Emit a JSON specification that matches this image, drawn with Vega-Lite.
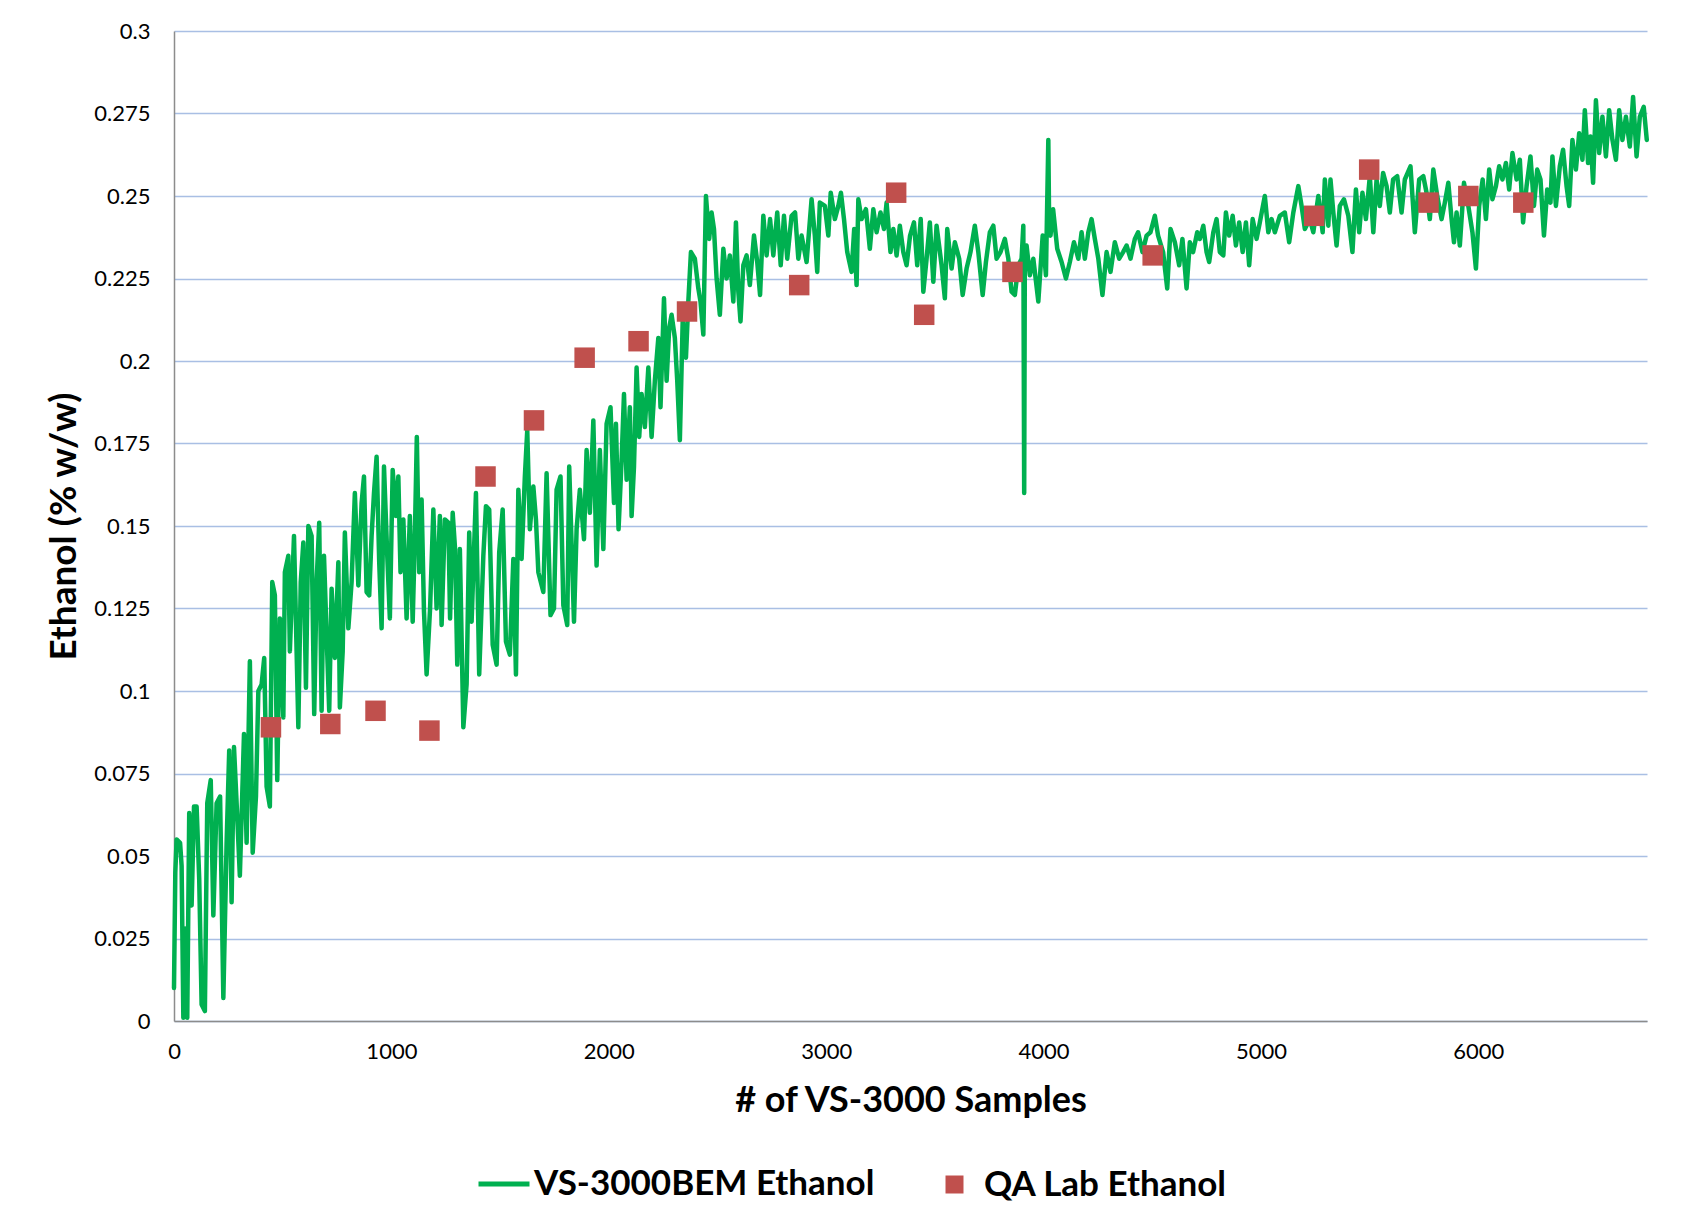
{
 "$schema": "https://vega.github.io/schema/vega-lite/v6.json",
 "width": 1473,
 "height": 990,
 "autosize": {"type": "none"},
 "padding": {"left": 174, "top": 31, "right": 43, "bottom": 206},
 "background": "white",
 "config": {"view": {"stroke": null}, "font": "Lato"},
 "datasets": {
  "line": [
   {"x":0,"y":0.010},{"x":6,"y":0.045},{"x":12,"y":0.055},{"x":28,"y":0.054},{"x":35,"y":0.047},{"x":43,"y":0.001},{"x":51,"y":0.028},{"x":61,"y":0.001},{"x":70,"y":0.063},{"x":81,"y":0.035},{"x":92,"y":0.065},{"x":104,"y":0.065},{"x":116,"y":0.043},{"x":127,"y":0.005},{"x":142,"y":0.003},{"x":153,"y":0.066},{"x":169,"y":0.073},{"x":181,"y":0.032},{"x":196,"y":0.066},{"x":212,"y":0.068},{"x":227,"y":0.007},{"x":242,"y":0.054},{"x":254,"y":0.082},{"x":265,"y":0.036},{"x":276,"y":0.083},{"x":288,"y":0.066},{"x":303,"y":0.044},{"x":322,"y":0.087},{"x":334,"y":0.054},{"x":349,"y":0.109},{"x":362,"y":0.051},{"x":377,"y":0.068},{"x":388,"y":0.100},{"x":403,"y":0.102},{"x":415,"y":0.110},{"x":426,"y":0.071},{"x":441,"y":0.065},{"x":452,"y":0.133},{"x":464,"y":0.129},{"x":475,"y":0.073},{"x":487,"y":0.122},{"x":503,"y":0.092},{"x":510,"y":0.136},{"x":526,"y":0.141},{"x":533,"y":0.112},{"x":552,"y":0.147},{"x":564,"y":0.112},{"x":572,"y":0.089},{"x":583,"y":0.133},{"x":595,"y":0.145},{"x":607,"y":0.101},{"x":618,"y":0.150},{"x":633,"y":0.147},{"x":645,"y":0.093},{"x":656,"y":0.133},{"x":668,"y":0.151},{"x":679,"y":0.094},{"x":690,"y":0.141},{"x":702,"y":0.117},{"x":714,"y":0.094},{"x":725,"y":0.131},{"x":740,"y":0.110},{"x":756,"y":0.139},{"x":763,"y":0.095},{"x":776,"y":0.112},{"x":786,"y":0.148},{"x":802,"y":0.119},{"x":817,"y":0.133},{"x":832,"y":0.160},{"x":848,"y":0.132},{"x":863,"y":0.157},{"x":874,"y":0.165},{"x":886,"y":0.130},{"x":898,"y":0.129},{"x":909,"y":0.147},{"x":920,"y":0.160},{"x":932,"y":0.171},{"x":944,"y":0.139},{"x":955,"y":0.119},{"x":966,"y":0.168},{"x":981,"y":0.141},{"x":993,"y":0.122},{"x":1006,"y":0.167},{"x":1021,"y":0.153},{"x":1032,"y":0.165},{"x":1042,"y":0.136},{"x":1055,"y":0.152},{"x":1070,"y":0.122},{"x":1085,"y":0.153},{"x":1098,"y":0.121},{"x":1108,"y":0.147},{"x":1117,"y":0.177},{"x":1128,"y":0.136},{"x":1139,"y":0.158},{"x":1150,"y":0.124},{"x":1162,"y":0.105},
   {"x":1178,"y":0.125},{"x":1193,"y":0.155},{"x":1208,"y":0.125},{"x":1223,"y":0.153},{"x":1231,"y":0.120},{"x":1246,"y":0.152},{"x":1262,"y":0.151},{"x":1270,"y":0.122},{"x":1282,"y":0.154},{"x":1293,"y":0.143},{"x":1303,"y":0.108},{"x":1315,"y":0.143},{"x":1331,"y":0.089},{"x":1346,"y":0.102},{"x":1358,"y":0.148},{"x":1369,"y":0.121},{"x":1389,"y":0.160},{"x":1404,"y":0.105},{"x":1423,"y":0.141},{"x":1435,"y":0.156},{"x":1450,"y":0.155},{"x":1466,"y":0.114},{"x":1484,"y":0.108},{"x":1496,"y":0.142},{"x":1512,"y":0.155},{"x":1527,"y":0.115},{"x":1545,"y":0.111},{"x":1561,"y":0.140},{"x":1573,"y":0.105},{"x":1584,"y":0.161},{"x":1599,"y":0.140},{"x":1614,"y":0.165},{"x":1625,"y":0.179},{"x":1637,"y":0.149},{"x":1653,"y":0.162},{"x":1665,"y":0.152},{"x":1676,"y":0.136},{"x":1699,"y":0.130},{"x":1714,"y":0.166},{"x":1732,"y":0.123},{"x":1748,"y":0.125},{"x":1760,"y":0.161},{"x":1778,"y":0.165},{"x":1791,"y":0.126},{"x":1809,"y":0.120},{"x":1818,"y":0.168},{"x":1840,"y":0.121},{"x":1852,"y":0.149},{"x":1867,"y":0.161},{"x":1886,"y":0.146},{"x":1898,"y":0.173},{"x":1913,"y":0.154},{"x":1929,"y":0.182},{"x":1944,"y":0.138},{"x":1959,"y":0.173},{"x":1975,"y":0.143},{"x":1990,"y":0.181},{"x":2008,"y":0.186},{"x":2024,"y":0.157},{"x":2033,"y":0.181},{"x":2045,"y":0.149},{"x":2059,"y":0.170},{"x":2070,"y":0.190},{"x":2082,"y":0.164},{"x":2097,"y":0.186},{"x":2105,"y":0.153},{"x":2116,"y":0.168},{"x":2128,"y":0.198},{"x":2140,"y":0.177},{"x":2151,"y":0.190},{"x":2166,"y":0.180},{"x":2182,"y":0.198},{"x":2197,"y":0.177},{"x":2212,"y":0.194},{"x":2228,"y":0.207},{"x":2238,"y":0.186},{"x":2254,"y":0.219},{"x":2266,"y":0.194},{"x":2278,"y":0.210},{"x":2289,"y":0.214},{"x":2304,"y":0.207},{"x":2315,"y":0.194},{"x":2327,"y":0.176},{"x":2340,"y":0.212},{"x":2355,"y":0.201},{"x":2366,"y":0.218},{"x":2378,"y":0.233},{"x":2396,"y":0.231},{"x":2412,"y":0.222},{"x":2422,"y":0.218},{"x":2435,"y":0.208},{"x":2447,"y":0.250},{"x":2462,"y":0.237},{"x":2473,"y":0.245},{"x":2484,"y":0.240},{"x":2496,"y":0.225},{"x":2511,"y":0.214},{"x":2527,"y":0.234},{"x":2542,"y":0.225},{"x":2557,"y":0.232},{"x":2573,"y":0.218},{"x":2585,"y":0.242},{"x":2596,"y":0.221},{"x":2606,"y":0.212},{"x":2619,"y":0.229},{"x":2634,"y":0.232},{"x":2649,"y":0.223},{"x":2668,"y":0.238},{"x":2683,"y":0.230},
   {"x":2696,"y":0.220},{"x":2711,"y":0.244},{"x":2726,"y":0.232},{"x":2742,"y":0.243},{"x":2757,"y":0.232},{"x":2775,"y":0.245},{"x":2791,"y":0.229},{"x":2806,"y":0.244},{"x":2821,"y":0.231},{"x":2841,"y":0.244},{"x":2857,"y":0.245},{"x":2872,"y":0.231},{"x":2887,"y":0.238},{"x":2910,"y":0.230},{"x":2933,"y":0.249},{"x":2948,"y":0.238},{"x":2959,"y":0.227},{"x":2971,"y":0.248},{"x":2994,"y":0.247},{"x":3010,"y":0.238},{"x":3021,"y":0.251},{"x":3040,"y":0.243},{"x":3056,"y":0.247},{"x":3068,"y":0.251},{"x":3082,"y":0.243},{"x":3097,"y":0.233},{"x":3117,"y":0.227},{"x":3129,"y":0.240},{"x":3140,"y":0.223},{"x":3148,"y":0.249},{"x":3163,"y":0.243},{"x":3183,"y":0.246},{"x":3201,"y":0.234},{"x":3217,"y":0.246},{"x":3232,"y":0.239},{"x":3250,"y":0.245},{"x":3266,"y":0.240},{"x":3278,"y":0.248},{"x":3296,"y":0.233},{"x":3309,"y":0.240},{"x":3324,"y":0.232},{"x":3339,"y":0.241},{"x":3355,"y":0.233},{"x":3370,"y":0.229},{"x":3386,"y":0.238},{"x":3404,"y":0.242},{"x":3419,"y":0.229},{"x":3435,"y":0.243},{"x":3447,"y":0.221},{"x":3462,"y":0.231},{"x":3477,"y":0.242},{"x":3493,"y":0.224},{"x":3508,"y":0.241},{"x":3531,"y":0.229},{"x":3546,"y":0.219},{"x":3557,"y":0.240},{"x":3577,"y":0.228},{"x":3592,"y":0.236},{"x":3612,"y":0.231},{"x":3628,"y":0.220},{"x":3646,"y":0.228},{"x":3664,"y":0.233},{"x":3684,"y":0.241},{"x":3700,"y":0.233},{"x":3720,"y":0.220},{"x":3735,"y":0.230},{"x":3753,"y":0.239},{"x":3769,"y":0.241},{"x":3784,"y":0.231},{"x":3802,"y":0.233},{"x":3822,"y":0.237},{"x":3838,"y":0.231},{"x":3853,"y":0.221},{"x":3868,"y":0.220},{"x":3884,"y":0.229},{"x":3899,"y":0.231},{"x":3907,"y":0.241},{"x":3911,"y":0.160},{"x":3914,"y":0.233},{"x":3922,"y":0.235},{"x":3937,"y":0.226},{"x":3953,"y":0.231},{"x":3976,"y":0.218},{"x":3996,"y":0.238},{"x":4011,"y":0.226},{"x":4022,"y":0.267},{"x":4026,"y":0.240},{"x":4032,"y":0.238},{"x":4044,"y":0.246},{"x":4063,"y":0.234},{"x":4083,"y":0.230},{"x":4103,"y":0.225},{"x":4121,"y":0.230},{"x":4140,"y":0.236},{"x":4160,"y":0.231},{"x":4175,"y":0.239},{"x":4190,"y":0.231},{"x":4206,"y":0.239},{"x":4221,"y":0.243},{"x":4236,"y":0.237},{"x":4252,"y":0.231},{"x":4271,"y":0.220},{"x":4290,"y":0.233},{"x":4308,"y":0.227},{"x":4328,"y":0.236},{"x":4348,"y":0.231},{"x":4366,"y":0.233},{"x":4382,"y":0.235},{"x":4400,"y":0.231},{"x":4420,"y":0.237},{"x":4435,"y":0.239},{"x":4455,"y":0.233},{"x":4474,"y":0.238},{"x":4492,"y":0.239},{"x":4512,"y":0.244},{"x":4527,"y":0.238},{"x":4550,"y":0.233},{"x":4569,"y":0.222},{"x":4584,"y":0.240},{"x":4604,"y":0.236},{"x":4624,"y":0.229},{"x":4639,"y":0.237},{"x":4658,"y":0.222},{"x":4673,"y":0.236},{"x":4688,"y":0.233},{"x":4707,"y":0.239},
   {"x":4719,"y":0.237},{"x":4735,"y":0.241},{"x":4750,"y":0.233},{"x":4762,"y":0.230},{"x":4781,"y":0.239},{"x":4796,"y":0.243},{"x":4811,"y":0.233},{"x":4827,"y":0.232},{"x":4839,"y":0.245},{"x":4854,"y":0.238},{"x":4870,"y":0.244},{"x":4885,"y":0.235},{"x":4900,"y":0.242},{"x":4916,"y":0.233},{"x":4931,"y":0.242},{"x":4946,"y":0.229},{"x":4962,"y":0.243},{"x":4980,"y":0.237},{"x":4995,"y":0.242},{"x":5018,"y":0.250},{"x":5034,"y":0.239},{"x":5049,"y":0.243},{"x":5064,"y":0.239},{"x":5087,"y":0.244},{"x":5110,"y":0.245},{"x":5130,"y":0.236},{"x":5149,"y":0.245},{"x":5172,"y":0.253},{"x":5187,"y":0.247},{"x":5202,"y":0.240},{"x":5225,"y":0.243},{"x":5241,"y":0.239},{"x":5264,"y":0.250},{"x":5284,"y":0.239},{"x":5294,"y":0.255},{"x":5310,"y":0.241},{"x":5320,"y":0.255},{"x":5333,"y":0.245},{"x":5348,"y":0.235},{"x":5363,"y":0.247},{"x":5382,"y":0.249},{"x":5402,"y":0.244},{"x":5421,"y":0.233},{"x":5437,"y":0.252},{"x":5452,"y":0.239},{"x":5467,"y":0.251},{"x":5483,"y":0.243},{"x":5501,"y":0.256},{"x":5517,"y":0.239},{"x":5532,"y":0.255},{"x":5547,"y":0.247},{"x":5562,"y":0.257},{"x":5578,"y":0.253},{"x":5593,"y":0.245},{"x":5608,"y":0.255},{"x":5627,"y":0.256},{"x":5647,"y":0.245},{"x":5662,"y":0.255},{"x":5688,"y":0.259},{"x":5708,"y":0.239},{"x":5728,"y":0.255},{"x":5747,"y":0.256},{"x":5762,"y":0.251},{"x":5777,"y":0.243},{"x":5793,"y":0.258},{"x":5811,"y":0.250},{"x":5831,"y":0.243},{"x":5846,"y":0.248},{"x":5862,"y":0.254},{"x":5877,"y":0.243},{"x":5888,"y":0.236},{"x":5900,"y":0.245},{"x":5915,"y":0.235},{"x":5934,"y":0.254},{"x":5954,"y":0.247},{"x":5973,"y":0.239},{"x":5989,"y":0.228},{"x":6004,"y":0.247},{"x":6020,"y":0.255},{"x":6035,"y":0.243},{"x":6050,"y":0.258},{"x":6065,"y":0.249},{"x":6081,"y":0.253},{"x":6096,"y":0.259},{"x":6111,"y":0.255},{"x":6127,"y":0.260},{"x":6142,"y":0.252},{"x":6157,"y":0.263},{"x":6176,"y":0.255},{"x":6191,"y":0.261},{"x":6206,"y":0.242},{"x":6222,"y":0.253},{"x":6240,"y":0.262},{"x":6256,"y":0.247},{"x":6271,"y":0.258},{"x":6286,"y":0.255},{"x":6302,"y":0.238},{"x":6317,"y":0.252},{"x":6332,"y":0.248},{"x":6341,"y":0.262},{"x":6357,"y":0.247},{"x":6375,"y":0.259},{"x":6390,"y":0.264},{"x":6406,"y":0.253},{"x":6418,"y":0.247},{"x":6433,"y":0.267},{"x":6449,"y":0.258},{"x":6464,"y":0.269},{"x":6479,"y":0.261},{"x":6490,"y":0.276},{"x":6505,"y":0.260},{"x":6516,"y":0.268},{"x":6528,"y":0.254},{"x":6541,"y":0.279},{"x":6556,"y":0.263},{"x":6571,"y":0.274},{"x":6587,"y":0.262},{"x":6602,"y":0.276},{"x":6617,"y":0.267},{"x":6633,"y":0.261},{"x":6648,"y":0.276},{"x":6663,"y":0.267},{"x":6679,"y":0.274},{"x":6697,"y":0.265},{"x":6712,"y":0.280},{"x":6728,"y":0.262},{"x":6743,"y":0.274},{"x":6761,"y":0.277},{"x":6775,"y":0.267}
  ],
  "qa": [
   {"x":446,"y":0.089},{"x":719,"y":0.090},{"x":927,"y":0.094},{"x":1175,"y":0.088},{"x":1433,"y":0.165},{"x":1656,"y":0.182},{"x":1889,"y":0.201},{"x":2137,"y":0.206},{"x":2360,"y":0.215},{"x":2876,"y":0.223},{"x":3322,"y":0.251},{"x":3451,"y":0.214},{"x":3857,"y":0.227},{"x":4502,"y":0.232},{"x":5245,"y":0.244},{"x":5498,"y":0.258},{"x":5771,"y":0.248},{"x":5954,"y":0.250},{"x":6207,"y":0.248}
  ]
 },
 "encoding": {
  "x": {
   "field": "x", "type": "quantitative",
   "scale": {"domain": [0, 6776], "nice": false, "zero": false},
   "axis": {
    "title": "# of VS-3000 Samples",
    "values": [0, 1000, 2000, 3000, 4000, 5000, 6000],
    "format": "d",
    "grid": false, "ticks": false, "labelFlush": false, "labelOverlap": false,
    "labelPadding": 20, "labelFont": "Lato", "labelFontSize": 22, "labelColor": "#000000",
    "domainColor": "#8c8c8c", "domainWidth": 1.5,
    "titleFont": "Lato", "titleFontSize": 36, "titleFontWeight": "bold", "titleColor": "#000000",
    "titleY": 79, "titleBaseline": "middle"
   }
  },
  "y": {
   "field": "y", "type": "quantitative",
   "scale": {"domain": [0, 0.3], "nice": false},
   "axis": {
    "title": "Ethanol (% w/w)",
    "values": [0, 0.025, 0.05, 0.075, 0.1, 0.125, 0.15, 0.175, 0.2, 0.225, 0.25, 0.275, 0.3],
    "format": ".3~f",
    "grid": true, "gridColor": "#a9bfe4", "gridWidth": 1.5,
    "ticks": false, "labelFlush": false, "labelOverlap": false,
    "labelPadding": 24, "labelFont": "Lato", "labelFontSize": 22, "labelColor": "#000000",
    "domainColor": "#8c8c8c", "domainWidth": 1.5,
    "titleFont": "Lato", "titleFontSize": 37, "titleFontWeight": "bold", "titleColor": "#000000",
    "titleAngle": -90, "titleX": -110, "titleY": 495, "titleBaseline": "middle", "titleAlign": "center"
   }
  }
 },
 "layer": [
  {
   "data": {"name": "line"},
   "mark": {"type": "line", "strokeWidth": 4.5, "strokeJoin": "round", "strokeCap": "round"},
   "encoding": {
    "stroke": {
     "datum": "VS-3000BEM Ethanol",
     "scale": {"domain": ["VS-3000BEM Ethanol"], "range": ["#00B050"]},
     "legend": {
      "title": null, "orient": "none", "legendX": 302, "legendY": 1125,
      "padding": 0, "symbolType": "stroke", "symbolSize": 2601, "symbolStrokeWidth": 5,
      "labelOffset": 2, "labelFont": "Lato", "labelFontSize": 35, "labelFontWeight": "bold", "labelColor": "#000000", "labelLimit": 600
     }
    }
   }
  },
  {
   "data": {"name": "qa"},
   "mark": {"type": "point", "shape": "square", "filled": true, "size": 420, "opacity": 1},
   "encoding": {
    "fill": {
     "datum": "QA Lab Ethanol",
     "scale": {"domain": ["QA Lab Ethanol"], "range": ["#C0504D"]},
     "legend": {
      "title": null, "orient": "none", "legendX": 763, "legendY": 1136,
      "padding": 0, "symbolType": "square", "symbolSize": 324, "symbolStrokeWidth": 0, "symbolOpacity": 1,
      "labelOffset": 12, "labelFont": "Lato", "labelFontSize": 35, "labelFontWeight": "bold", "labelColor": "#000000", "labelLimit": 600
     }
    }
   }
  }
 ]
}
